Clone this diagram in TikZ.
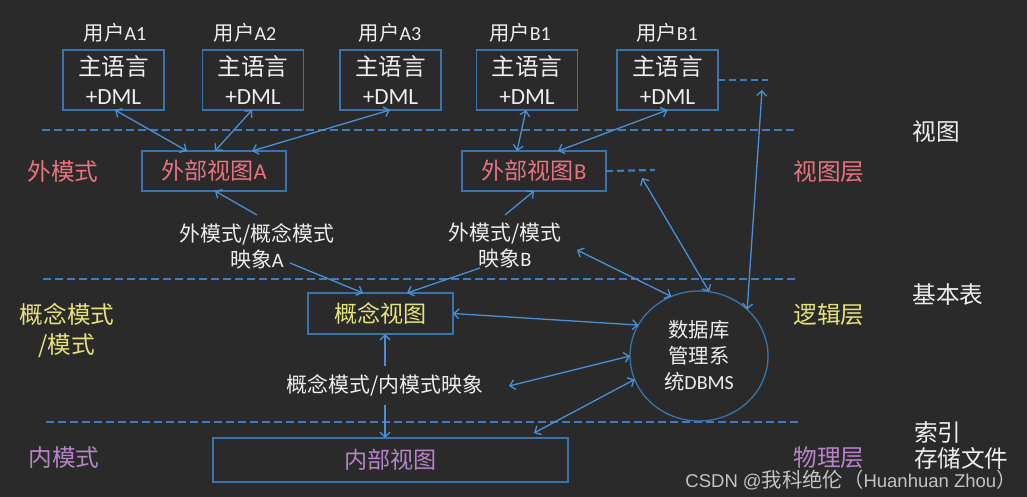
\documentclass[tikz,border=0pt]{standalone}
\usepackage{fontspec}
\setmainfont{Carlito}[Scale=1.08]
\newfontfamily\cjk{Noto Sans CJK SC}[Scale=1.1]
\newfontfamily\wmfont{Liberation Sans}
\usetikzlibrary{arrows.meta,shapes.geometric,calc}
\definecolor{bg}{HTML}{2A2A2A}
\definecolor{boxblue}{HTML}{3A74AD}
\definecolor{arrblue}{HTML}{4B90D6}
\definecolor{dashblue}{HTML}{3D7CC0}
\definecolor{pinkc}{HTML}{E8737F}
\definecolor{yellowc}{HTML}{E6E27A}
\definecolor{purplec}{HTML}{B784C9}
\definecolor{whitec}{HTML}{EEEEEE}
\tikzset{
  every node/.style={inner sep=0pt, outer sep=0pt},
  ulabel/.style={text=whitec, font=\fontsize{18.5}{22}\selectfont},
  ubox/.style={draw=boxblue, line width=1.2pt, minimum width=101pt, minimum height=60pt,
    text=whitec, align=center, font=\fontsize{21.5}{29}\selectfont},
  vbox/.style={draw=boxblue, line width=1.2pt, minimum width=144pt, minimum height=40pt,
    font=\fontsize{21}{24}\selectfont},
  maplabel/.style={text=whitec, align=center, font=\fontsize{19}{26}\selectfont},
  sidelabel/.style={align=center, font=\fontsize{21.5}{30}\selectfont\cjk},
  layerline/.style={dashblue, line width=2.7pt, dash pattern=on 8pt off 4pt},
  stubline/.style={dashblue, line width=2.2pt, dash pattern=on 7pt off 4pt},
  dar/.style={arrblue, line width=1.3pt, {Straight Barb[length=5pt,width=10pt]}-{Straight Barb[length=5pt,width=10pt]}},
  sar/.style={arrblue, line width=1.3pt, -{Straight Barb[length=5pt,width=10pt]}},
}
\begin{document}
\begin{tikzpicture}[x=1pt,y=-1pt]
\fill[bg] (0,0) rectangle (1027,497);
\useasboundingbox (0,0) rectangle (1027,497);

% layer lines
\draw[layerline] (42,130) -- (794,130);
\draw[layerline] (43,279) -- (796,279);
\draw[layerline] (46,422) -- (800,422);

% users
\node[ulabel] (uA1) at (115,33) {{\cjk 用户}A1};
\node[ulabel] (uA2) at (245,33) {{\cjk 用户}A2};
\node[ulabel] (uA3) at (390,33) {{\cjk 用户}A3};
\node[ulabel] (uB1) at (520,33) {{\cjk 用户}B1};
\node[ulabel] (uB2) at (667,33) {{\cjk 用户}B1};

\node[ubox] (bA1) at (113.5,80) {{\cjk 主语言}\\+DML};
\node[ubox] (bA2) at (253,80) {{\cjk 主语言}\\+DML};
\node[ubox] (bA3) at (390.5,80) {{\cjk 主语言}\\+DML};
\node[ubox] (bB1) at (527,80) {{\cjk 主语言}\\+DML};
\node[ubox] (bB2) at (667.5,80) {{\cjk 主语言}\\+DML};

\coordinate (sB2) at (768,80);
\draw[stubline] (bB2.east) -- (sB2);

% external views
\node[vbox, text=pinkc] (eA) at (214,171) {{\cjk 外部视图}A};
\node[vbox, text=pinkc] (eB) at (534,171) {{\cjk 外部视图}B};
\coordinate (sB) at (655,170);
\draw[stubline] (eB.east) -- (sB);

% side labels
\node[sidelabel, text=pinkc] (lw) at (63,172) {外模式};
\node[sidelabel, text=yellowc] (lc) at (67,330) {概念模式\\/模式};
\node[sidelabel, text=purplec] (ln) at (64,458) {内模式};
\node[sidelabel, text=pinkc] (r1) at (829,172) {视图层};
\node[sidelabel, text=yellowc] (r2) at (829,315) {逻辑层};
\node[sidelabel, text=purplec] (r3) at (829,458) {物理层};
\node[sidelabel, text=whitec] (t1) at (936,132) {视图};
\node[sidelabel, text=whitec] (t2) at (948,295) {基本表};
\node[sidelabel, text=whitec, anchor=west] (t3) at (914,432) {索引};
\node[sidelabel, text=whitec, anchor=west] (t4) at (914,458) {存储文件};

% mapping labels
\node[maplabel] (mA) at (257,246) {{\cjk 外模式/概念模式}\\{\cjk 映象}A};
\node[maplabel] (mB) at (505,246) {{\cjk 外模式/模式}\\{\cjk 映象}B};
\node[maplabel, font=\fontsize{19}{26}\selectfont\cjk] (cm) at (385,385) {概念模式/内模式映象};

% conceptual and internal views
\node[vbox, minimum width=145pt, minimum height=41pt, text=yellowc, font=\fontsize{21}{24}\selectfont\cjk] (cv) at (380.5,313.5) {概念视图};
\node[vbox, minimum width=355pt, minimum height=44pt, text=purplec, font=\fontsize{21}{24}\selectfont\cjk] (iv) at (390.5,460) {内部视图};

% DBMS
\node[ellipse, draw=boxblue, line width=1.3pt, minimum width=138pt, minimum height=130pt,
  text=whitec, align=center, font=\fontsize{18.5}{26}\selectfont] (db) at (699,356)
  {{\cjk 数据库}\\{\cjk 管理系}\\{\cjk 统}DBMS};

% arrows users <-> external views
\draw[dar] ([xshift=1.5pt]bA1.south) -- ([xshift=-27pt]eA.north);
\draw[dar] ([xshift=-1pt]bA2.south) -- ([xshift=1pt]eA.north);
\draw[dar] ([xshift=-0.5pt]bA3.south) -- ([xshift=38pt]eA.north);
\draw[dar] ([xshift=-1pt]bB1.south) -- ([xshift=-17pt]eB.north);
\draw[dar] ([xshift=0pt]bB2.south) -- ([xshift=24pt]eB.north);

% mapping arrows
\draw[sar] ($(mA.center)+(0,-31)$) -- ([xshift=1pt]eA.south);
\draw[sar] ($(mA.center)+(33,17)$) -- ([xshift=-17.5pt]cv.north);
\draw[sar] ($(mB.center)+(0,-31)$) -- (eB.south);
\draw[sar] ($(mB.center)+(-25,22)$) -- ([xshift=26.5pt]cv.north);
\draw[sar] ($(cm.center)+(0,-19)$) -- ([xshift=4.5pt]cv.south);
\draw[sar] ($(cm.center)+(0,20)$) -- ([xshift=-5.5pt]iv.north);

% DBMS arrows
\draw[dar] ($(sB)+(-13,8)$) -- (db.81);
\draw[dar] ($(sB2)+(-6,10)$) -- (db.44);
\draw[dar] ($(mB.center)+(72,4)$) -- (db.115);
\draw[dar] (cv.east) -- (db.153);
\draw[dar] ($(cm.center)+(124,1)$) -- (db.180);
\draw[dar] ($(iv.north)+(143.5,-5)$) -- (db.200);

% watermark
\node[text=white!72!bg, font=\fontsize{18.5}{20}\selectfont] (wm) at (851,480)
  {\wmfont CSDN @{\cjk 我科绝伦（}Huanhuan Zhou{\cjk ）}};
\end{tikzpicture}
\end{document}
